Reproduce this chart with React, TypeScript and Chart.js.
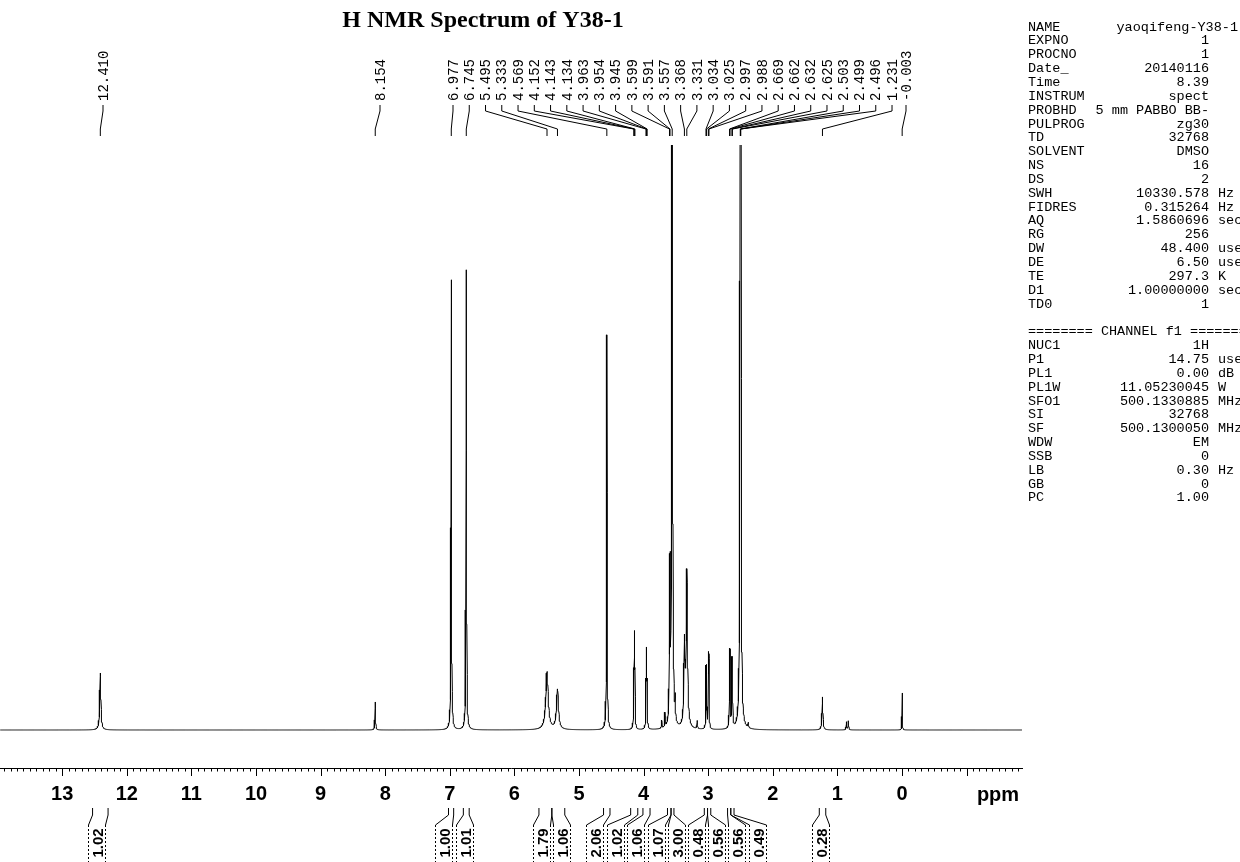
import React, { useEffect, useRef } from 'react';
import { Chart, registerables } from 'chart.js';
Chart.register(...registerables);

// ---------------- data ----------------
const titleText = 'H NMR Spectrum of Y38-1';

// resolved peaks: chemical shift (ppm), intensity, half width at half height (ppm)
const peakPpm = [12.41, 8.154, 6.977, 6.745, 5.495, 5.333, 4.569, 4.152, 4.143, 4.134, 3.963, 3.954, 3.945, 3.72, 3.67, 3.599, 3.591, 3.557, 3.51, 3.368, 3.331, 3.17, 3.034, 3.025, 2.997, 2.988, 2.669, 2.662, 2.632, 2.625, 2.503, 2.499, 2.496, 2.38, 1.231, 0.86, 0.83, -0.003];
const peakHeight = [57, 28, 450, 460, 58, 40, 395, 46, 84, 46, 38, 70, 38, 8, 14, 132, 122, 1400, 20, 80, 155, 8, 56, 56, 68, 66, 64, 62, 56, 54, 700, 1000, 700, 5, 33, 8, 9, 37];
const peakWidth = [0.01, 0.005, 0.0045, 0.0045, 0.022, 0.018, 0.0045, 0.004, 0.004, 0.004, 0.004, 0.004, 0.004, 0.004, 0.004, 0.004, 0.004, 0.005, 0.004, 0.01, 0.012, 0.005, 0.0035, 0.0035, 0.0035, 0.0035, 0.004, 0.004, 0.004, 0.004, 0.004, 0.004, 0.004, 0.006, 0.008, 0.005, 0.005, 0.003];

// picked peak labels (top)
const labelPpm = [12.41, 8.154, 6.977, 6.745, 5.495, 5.333, 4.569, 4.152, 4.143, 4.134, 3.963, 3.954, 3.945, 3.599, 3.591, 3.557, 3.368, 3.331, 3.034, 3.025, 2.997, 2.988, 2.669, 2.662, 2.632, 2.625, 2.503, 2.499, 2.496, 1.231, -0.003];
const labelText = ['12.410', '8.154', '6.977', '6.745', '5.495', '5.333', '4.569', '4.152', '4.143', '4.134', '3.963', '3.954', '3.945', '3.599', '3.591', '3.557', '3.368', '3.331', '3.034', '3.025', '2.997', '2.988', '2.669', '2.662', '2.632', '2.625', '2.503', '2.499', '2.496', '1.231', '-0.003'];

// integrals (bottom)
const integralFrom = [12.53, 7.02, 6.79, 5.62, 5.42, 4.62, 4.2, 4.01, 3.63, 3.575, 3.06, 3.01, 2.7, 2.65, 1.28];
const integralTo = [12.29, 6.94, 6.7, 5.42, 5.22, 4.52, 4.09, 3.9, 3.575, 3.53, 3.01, 2.96, 2.65, 2.6, 1.18];
const integralValue = ['1.02', '1.00', '1.01', '1.79', '1.06', '2.06', '1.02', '1.06', '1.07', '3.00', '0.48', '0.56', '0.56', '0.49', '0.28'];

// axis
const axisTicks = [13, 12, 11, 10, 9, 8, 7, 6, 5, 4, 3, 2, 1, 0, -1];
const X_MIN = -1.858;
const X_MAX = 13.963;

// acquisition parameters
const paramNames = ['NAME', 'EXPNO', 'PROCNO', 'Date_', 'Time', 'INSTRUM', 'PROBHD', 'PULPROG', 'TD', 'SOLVENT', 'NS', 'DS', 'SWH', 'FIDRES', 'AQ', 'RG', 'DW', 'DE', 'TE', 'D1', 'TD0'];
const paramValues = ['yaoqifeng-Y38-1', '1', '1', '20140116', '8.39', 'spect', '5 mm PABBO BB-', 'zg30', '32768', 'DMSO', '16', '2', '10330.578', '0.315264', '1.5860696', '256', '48.400', '6.50', '297.3', '1.00000000', '1'];
const paramUnits = ['', '', '', '', '', '', '', '', '', '', '', '', 'Hz', 'Hz', 'sec', '', 'usec', 'usec', 'K', 'sec', ''];
const channelHeader = '======== CHANNEL f1 ========';
const channelNames = ['NUC1', 'P1', 'PL1', 'PL1W', 'SFO1', 'SI', 'SF', 'WDW', 'SSB', 'LB', 'GB', 'PC'];
const channelValues = ['1H', '14.75', '0.00', '11.05230045', '500.1330885', '32768', '500.1300050', 'EM', '0', '0.30', '0', '1.00'];
const channelUnits = ['', 'usec', 'dB', 'W', 'MHz', '', 'MHz', '', '', 'Hz', '', ''];

// ---------------- layout (annotation placement, not data) ----------------
const LABEL_SLOT_FIRST = 453;
const LABEL_SLOT_STEP = 16.26;
const labelSlotSpecial: Record<number, number> = { 0: 103, 1: 380, 30: 906 };
const integralBoxX = [97, 444, 465, 542, 562, 595, 616, 636, 657, 677, 697, 717, 737, 758, 821];

function intensityAt(x: number) {
  let s = 0;
  for (let i = 0; i < peakPpm.length; i++) {
    const d = (x - peakPpm[i]) / peakWidth[i];
    s += peakHeight[i] / (1 + d * d);
  }
  return s;
}

function buildSpectrum() {
  const xs: number[] = [];
  const n = 4000;
  for (let i = 0; i <= n; i++) xs.push(X_MIN + ((X_MAX - X_MIN) * i) / n);
  peakPpm.forEach((p) => xs.push(p));
  xs.sort((a, b) => a - b);
  return xs.map((x) => ({ x, y: intensityAt(x) }));
}

const MONO = '"Liberation Mono", "DejaVu Sans Mono", monospace';
const SANS = '"Liberation Sans", Arial, sans-serif';
const SERIF = '"Liberation Serif", "Times New Roman", serif';

const overlayPlugin = {
  id: 'nmrOverlay',
  afterDraw(chart: any) {
    const ctx: CanvasRenderingContext2D = chart.ctx;
    const xs = chart.scales.x;
    const area = chart.chartArea;
    ctx.save();
    ctx.strokeStyle = '#000';
    ctx.fillStyle = '#000';
    ctx.lineWidth = 1;

    // axis tick marks (minor every 0.1 ppm)
    for (let i = Math.ceil(X_MIN * 10); i <= Math.floor(X_MAX * 10); i++) {
      const px = Math.round(xs.getPixelForValue(i / 10)) + 0.5;
      const len = i % 10 === 0 ? 8 : 3.5;
      ctx.beginPath();
      ctx.moveTo(px, area.bottom);
      ctx.lineTo(px, area.bottom + len);
      ctx.stroke();
    }

    // ppm unit
    ctx.font = `bold 20px ${SANS}`;
    ctx.textAlign = 'center';
    ctx.textBaseline = 'middle';
    ctx.fillText('ppm', 998, 795);

    // title
    ctx.font = `bold 24px ${SERIF}`;
    ctx.fillText(titleText, 483, 21);

    // peak labels with leader lines
    ctx.font = `14px ${MONO}`;
    labelPpm.forEach((p, i) => {
      const slot = labelSlotSpecial[i] !== undefined ? labelSlotSpecial[i] : LABEL_SLOT_FIRST + (i - 2) * LABEL_SLOT_STEP;
      const px = xs.getPixelForValue(p);
      ctx.beginPath();
      ctx.moveTo(slot, 105);
      ctx.lineTo(slot, 111);
      ctx.lineTo(px, 129);
      ctx.lineTo(px, 136);
      ctx.stroke();
      ctx.save();
      ctx.translate(slot, 101);
      ctx.rotate(-Math.PI / 2);
      ctx.textAlign = 'left';
      ctx.textBaseline = 'middle';
      ctx.fillText(labelText[i], 0, 1);
      ctx.restore();
    });

    // integrals
    integralValue.forEach((v, i) => {
      const x1 = xs.getPixelForValue(integralFrom[i]);
      const x2 = xs.getPixelForValue(integralTo[i]);
      const s = integralBoxX[i];
      const hw = 8.5;
      ctx.setLineDash([]);
      ctx.beginPath();
      ctx.moveTo(x1, 808);
      ctx.lineTo(x1, 815);
      ctx.lineTo(s - hw, 825);
      ctx.moveTo(x2, 808);
      ctx.lineTo(x2, 815);
      ctx.lineTo(s + hw, 825);
      ctx.stroke();
      ctx.setLineDash([2, 2]);
      ctx.beginPath();
      ctx.moveTo(s - hw, 825);
      ctx.lineTo(s - hw, 862);
      ctx.moveTo(s + hw, 825);
      ctx.lineTo(s + hw, 862);
      ctx.stroke();
      ctx.setLineDash([]);
      ctx.save();
      ctx.translate(s + 0.5, 843);
      ctx.rotate(-Math.PI / 2);
      ctx.font = `bold 15px ${SANS}`;
      ctx.textAlign = 'center';
      ctx.textBaseline = 'middle';
      ctx.fillText(v, 0, 1);
      ctx.restore();
    });

    // parameter block
    ctx.font = `13.5px ${MONO}`;
    ctx.textBaseline = 'middle';
    const LX = 1028;
    const RX = 1209;
    const UX = 1218;
    const Y0 = 27;
    const DY = 13.85;
    paramNames.forEach((n, i) => {
      const y = Y0 + i * DY;
      ctx.textAlign = 'left';
      ctx.fillText(n, LX, y);
      ctx.textAlign = 'right';
      ctx.fillText(paramValues[i], i === 0 ? 1238 : RX, y);
      if (paramUnits[i]) {
        ctx.textAlign = 'left';
        ctx.fillText(paramUnits[i], UX, y);
      }
    });
    const yc = Y0 + (paramNames.length + 1) * DY;
    ctx.textAlign = 'left';
    ctx.fillText(channelHeader, LX, yc);
    channelNames.forEach((n, i) => {
      const y = yc + (i + 1) * DY;
      ctx.textAlign = 'left';
      ctx.fillText(n, LX, y);
      ctx.textAlign = 'right';
      ctx.fillText(channelValues[i], RX, y);
      if (channelUnits[i]) {
        ctx.textAlign = 'left';
        ctx.fillText(channelUnits[i], UX, y);
      }
    });
    ctx.restore();
  },
};

export default function App() {
  const ref = useRef<HTMLCanvasElement | null>(null);
  useEffect(() => {
    if (!ref.current) return;
    const chart = new Chart(ref.current, {
      type: 'line',
      data: {
        datasets: [
          {
            data: buildSpectrum(),
            borderColor: '#000',
            borderWidth: 1,
            pointRadius: 0,
            tension: 0,
            fill: false,
          },
        ],
      },
      options: {
        responsive: false,
        animation: false,
        parsing: false,
        normalized: true,
        events: [],
        layout: { padding: { top: 145, left: 0, right: 218, bottom: 0 } },
        plugins: { legend: { display: false }, tooltip: { enabled: false }, title: { display: false } },
        scales: {
          x: {
            type: 'linear',
            reverse: true,
            min: X_MIN,
            max: X_MAX,
            afterBuildTicks: (scale: any) => {
              scale.ticks = axisTicks.map((v) => ({ value: v }));
            },
            afterFit: (scale: any) => {
              scale.height = 94;
            },
            grid: { display: false, drawTicks: false },
            border: { display: true, color: '#000', width: 1 },
            ticks: {
              autoSkip: false,
              maxRotation: 0,
              padding: 14,
              color: '#000',
              font: { family: SANS, size: 20, weight: 'bold' },
              callback: (v: any) => (Number(v) === -1 ? '' : String(v)),
            },
          },
          y: {
            display: false,
            min: -38,
            max: 585,
          },
        },
      },
      plugins: [overlayPlugin],
    } as any);
    return () => chart.destroy();
  }, []);
  return (
    <div style={{ position: 'absolute', left: 0, top: 0, width: 1240, height: 862, background: '#fff' }}>
      <canvas ref={ref} width={1240} height={862} style={{ display: 'block' }} />
    </div>
  );
}
